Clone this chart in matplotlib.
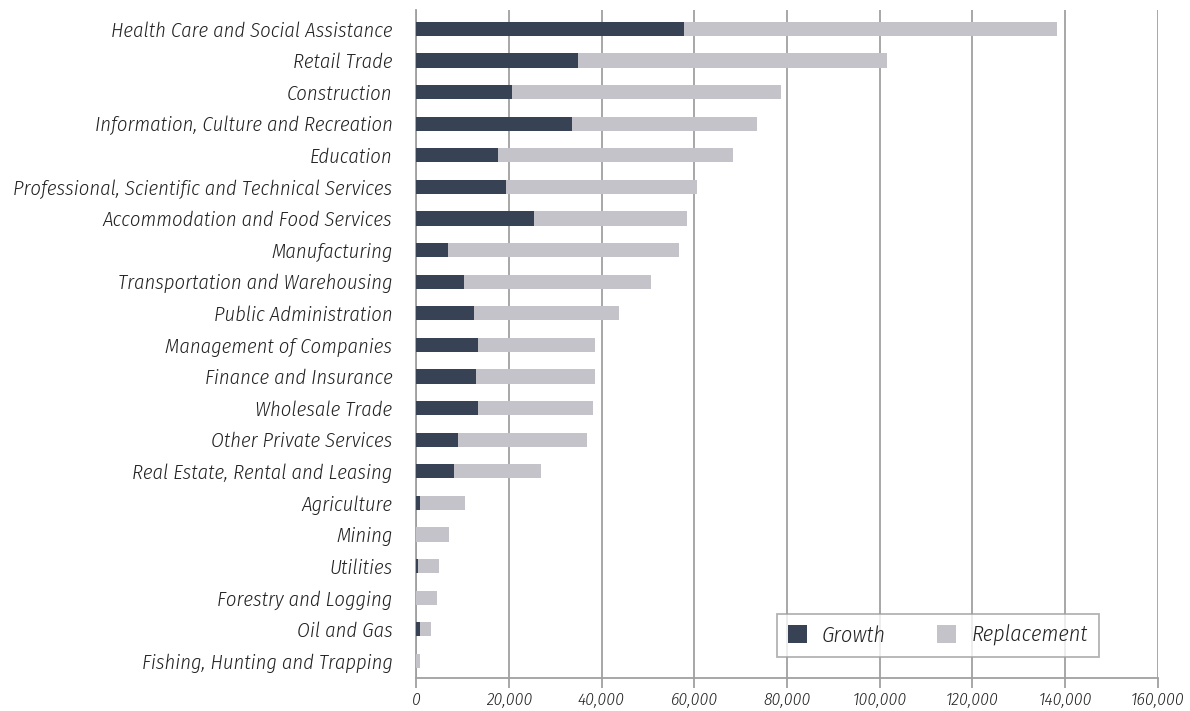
import numpy as np
import matplotlib
matplotlib.use("Agg")
from matplotlib import pyplot as plt

# industries top -> bottom
industries = ["Health Care and Social Assistance", "Retail Trade", "Construction",
              "Information, Culture and Recreation", "Education",
              "Professional, Scientific and Technical Services",
              "Accommodation and Food Services", "Manufacturing",
              "Transportation and Warehousing", "Public Administration",
              "Management of Companies", "Finance and Insurance", "Wholesale Trade",
              "Other Private Services", "Real Estate, Rental and Leasing", "Agriculture",
              "Mining", "Utilities", "Forestry and Logging", "Oil and Gas",
              "Fishing, Hunting and Trapping"]
growth = [57800, 34900, 20700, 33600, 17700, 19400, 25400, 6900, 10400, 12500,
          13400, 12900, 13400, 9100, 8200, 900, 0, 400, 0, 900, 0]
total = [138200, 101600, 78700, 73500, 68400, 60600, 58400, 56700, 50700, 43800,
         38600, 38600, 38200, 36900, 27000, 10600, 7100, 5000, 4500, 3200, 900]
replacement = [t - g for t, g in zip(total, growth)]

c_growth = "#374354"
c_repl = "#c4c3ca"
grid_c = "#a0a0a0"
font = ["Fira Sans Condensed", "DejaVu Sans"]
txt_kw = dict(family=font, style="italic", weight=300, color="#222222")

fig = plt.figure(figsize=(11.9, 7.11), dpi=100)
ax = fig.add_axes([0.3496, 0.0464, 0.6235, 0.9396])

y = np.arange(len(industries))
ax.barh(y, growth, height=0.45, color=c_growth, label="Growth", zorder=3)
ax.barh(y, replacement, left=growth, height=0.45, color=c_repl, label="Replacement", zorder=3)

ax.set_xlim(0, 160000)
ax.set_ylim(20.54, -0.6)
ax.set_xticks(np.arange(0, 160001, 20000))
ax.set_xticklabels([f"{v:,}" for v in range(0, 160001, 20000)], fontsize=12.5, **txt_kw)
ax.set_yticks(y)
ax.set_yticklabels(industries, fontsize=14.8, **txt_kw)

ax.grid(axis="x", color=grid_c, linewidth=1.3, zorder=0)
for s in ["top", "right"]:
    ax.spines[s].set_visible(False)
for s in ["left", "bottom"]:
    ax.spines[s].set_color(grid_c)
    ax.spines[s].set_linewidth(1.3)
ax.tick_params(axis="y", length=0, pad=17)
ax.tick_params(axis="x", length=7, color=grid_c, width=1.3, pad=3)

leg = ax.legend(loc="lower right", bbox_to_anchor=(0.9205, 0.031), ncol=2, frameon=True,
                fancybox=False, edgecolor=grid_c, handlelength=0.85, handleheight=0.85,
                columnspacing=2.3, borderpad=0.5, handletextpad=0.7, borderaxespad=0,
                prop={"family": font, "style": "italic", "weight": 300, "size": 16})
leg.get_frame().set_linewidth(1.3)
for t in leg.get_texts():
    t.set_color("#222222")

fig.savefig("out.png", dpi=100)
